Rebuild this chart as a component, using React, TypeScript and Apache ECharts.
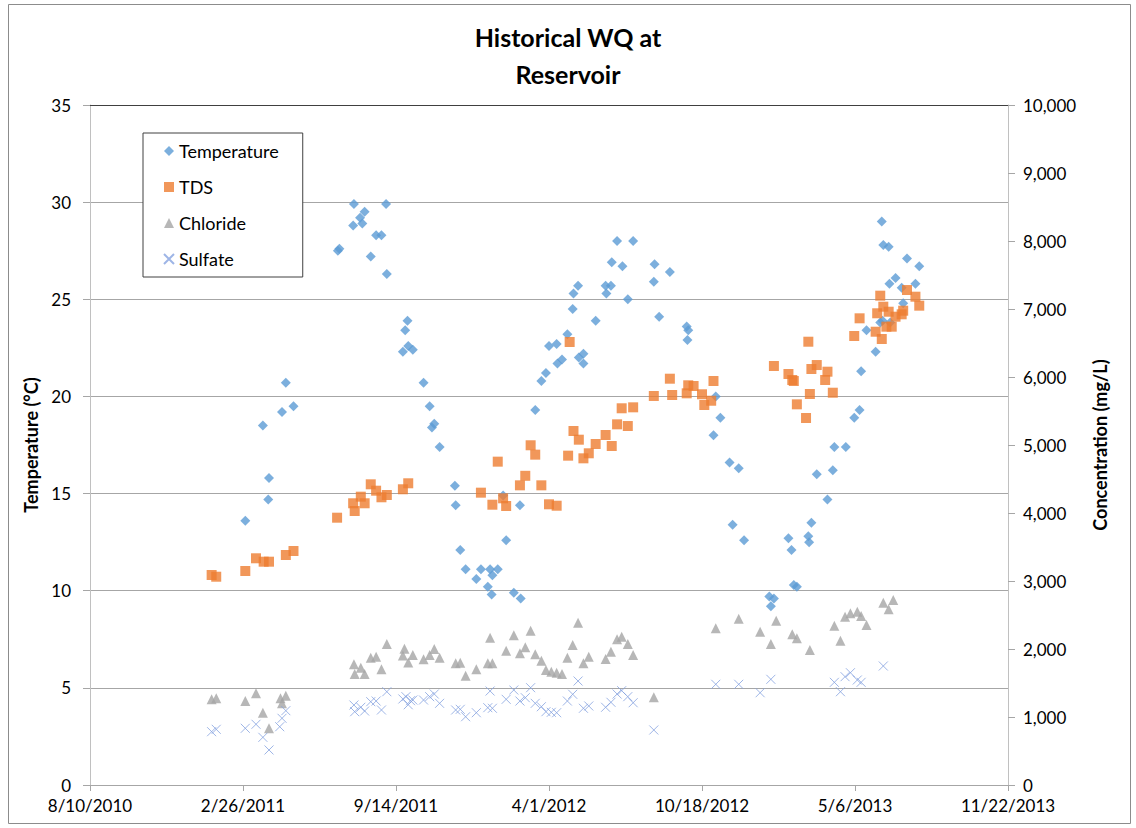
import React, { useEffect, useRef } from "react";
import * as echarts from "echarts";

const FONT = 'Lato, "Open Sans", "Noto Sans", sans-serif';

const titleLines = ["Historical WQ at", "Reservoir"];
const xTickMin = "2010-08-10";
const xTickMax = "2013-11-22";
const xTickStepDays = 200;

const tempDates = [
  "2011-03-01", "2011-03-24", "2011-03-31", "2011-04-01", "2011-04-18", "2011-04-23", "2011-05-03",
  "2011-06-30", "2011-07-02", "2011-07-20", "2011-07-21", "2011-07-29", "2011-08-01", "2011-08-04",
  "2011-08-12", "2011-08-19", "2011-08-26", "2011-09-01", "2011-09-02", "2011-09-23", "2011-09-26",
  "2011-09-29", "2011-09-30", "2011-10-06", "2011-10-20", "2011-10-28", "2011-10-31", "2011-11-03",
  "2011-11-10", "2011-11-30", "2011-12-01", "2011-12-07", "2011-12-14", "2011-12-28", "2012-01-03",
  "2012-01-12", "2012-01-15", "2012-01-17", "2012-01-18", "2012-01-25", "2012-02-01", "2012-02-05",
  "2012-02-15", "2012-02-23", "2012-02-24", "2012-03-14", "2012-03-22", "2012-03-28", "2012-04-01",
  "2012-04-11", "2012-04-12", "2012-04-18", "2012-04-25", "2012-05-02", "2012-05-03", "2012-05-09",
  "2012-05-10", "2012-05-16", "2012-05-16", "2012-06-01", "2012-06-14", "2012-06-15", "2012-06-21",
  "2012-06-22", "2012-06-29", "2012-07-06", "2012-07-13", "2012-07-20", "2012-08-16", "2012-08-17",
  "2012-08-23", "2012-09-06", "2012-09-28", "2012-09-29", "2012-09-30", "2012-11-02", "2012-11-05",
  "2012-11-11", "2012-11-23", "2012-11-27", "2012-12-05", "2012-12-12", "2013-01-14", "2013-01-16",
  "2013-01-20", "2013-02-08", "2013-02-12", "2013-02-15", "2013-02-19", "2013-03-06", "2013-03-07",
  "2013-03-10", "2013-03-17", "2013-03-31", "2013-04-07", "2013-04-09", "2013-04-24", "2013-05-05",
  "2013-05-12", "2013-05-14", "2013-05-21", "2013-06-02", "2013-06-08", "2013-06-10", "2013-06-11",
  "2013-06-12", "2013-06-19", "2013-06-20", "2013-06-21", "2013-06-28", "2013-07-06", "2013-07-08",
  "2013-07-13", "2013-07-24", "2013-07-29",
];
const tempValues = [
  13.6, 18.5, 14.7, 15.8, 19.2, 20.7, 19.5,
  27.5, 27.6, 28.8, 29.9, 29.2, 28.9, 29.5,
  27.2, 28.3, 28.3, 29.9, 26.3, 22.3, 23.4,
  23.9, 22.6, 22.4, 20.7, 19.5, 18.4, 18.6,
  17.4, 15.4, 14.4, 12.1, 11.1, 10.6, 11.1,
  10.2, 11.1, 9.8, 10.8, 11.1, 14.9, 12.6,
  9.9, 14.4, 9.6, 19.3, 20.8, 21.2, 22.6,
  22.7, 21.7, 21.9, 23.2, 24.5, 25.3, 25.7,
  22.0, 22.2, 21.7, 23.9, 25.7, 25.3, 25.7,
  26.9, 28.0, 26.7, 25.0, 28.0, 25.9, 26.8,
  24.1, 26.4, 23.6, 22.9, 23.4, 18.0, 20.0,
  18.9, 16.6, 13.4, 16.3, 12.6, 9.7, 9.2,
  9.6, 12.7, 12.1, 10.3, 10.2, 12.8, 12.5,
  13.5, 16.0, 14.7, 16.2, 17.4, 17.4, 18.9,
  19.3, 21.3, 23.4, 22.3, 23.8, 29.0, 23.9,
  27.8, 27.7, 25.8, 23.8, 26.1, 25.6, 24.8,
  27.1, 25.8, 26.7,
];

const tdsDates = [
  "2011-01-16", "2011-01-22", "2011-03-01", "2011-03-15", "2011-03-25", "2011-04-01", "2011-04-23",
  "2011-05-03", "2011-06-29", "2011-07-20", "2011-07-22", "2011-07-30", "2011-08-04", "2011-08-12",
  "2011-08-19", "2011-08-26", "2011-09-02", "2011-09-23", "2011-09-30", "2012-01-03", "2012-01-18",
  "2012-01-25", "2012-02-01", "2012-02-05", "2012-02-23", "2012-03-01", "2012-03-08", "2012-03-14",
  "2012-03-22", "2012-04-01", "2012-04-11", "2012-04-26", "2012-04-28", "2012-05-03", "2012-05-10",
  "2012-05-16", "2012-05-23", "2012-06-01", "2012-06-14", "2012-06-22", "2012-06-29", "2012-07-05",
  "2012-07-13", "2012-07-20", "2012-08-16", "2012-09-06", "2012-09-09", "2012-09-28", "2012-09-30",
  "2012-10-07", "2012-10-18", "2012-10-21", "2012-10-30", "2012-11-02", "2013-01-20", "2013-02-08",
  "2013-02-13", "2013-02-15", "2013-02-19", "2013-03-03", "2013-03-06", "2013-03-08", "2013-03-10",
  "2013-03-17", "2013-03-28", "2013-03-31", "2013-04-07", "2013-05-05", "2013-05-12", "2013-06-02",
  "2013-06-04", "2013-06-08", "2013-06-10", "2013-06-12", "2013-06-16", "2013-06-19", "2013-06-23",
  "2013-06-28", "2013-07-06", "2013-07-08", "2013-07-13", "2013-07-24", "2013-07-29",
];
const tdsValues = [
  3088, 3063, 3147, 3334, 3284, 3284, 3382,
  3441, 3931, 4143, 4029, 4240, 4143, 4422,
  4328, 4231, 4265, 4349, 4437, 4299, 4122,
  4755, 4216, 4103, 4407, 4547, 4996, 4858,
  4407, 4128, 4107, 4843, 6515, 5206, 5078,
  4804, 4878, 5015, 5147, 4985, 5304, 5540,
  5279, 5554, 5721, 5975, 5735, 5760, 5878,
  5868, 5746, 5588, 5651, 5941, 6162, 6044,
  5956, 5941, 5598, 5397, 6519, 5750, 6118,
  6176, 5956, 6078, 5769, 6603, 6863, 6666,
  6937, 7196, 6559, 7034, 6740, 6960, 6740,
  6887, 6922, 6975, 7279, 7181, 7049,
];

const chlorideDates = [
  "2011-01-16", "2011-01-22", "2011-03-01", "2011-03-15", "2011-03-24", "2011-04-01", "2011-04-16",
  "2011-04-18", "2011-04-23", "2011-07-21", "2011-07-22", "2011-07-30", "2011-08-04", "2011-08-12",
  "2011-08-19", "2011-08-26", "2011-09-02", "2011-09-23", "2011-09-25", "2011-09-30", "2011-10-06",
  "2011-10-20", "2011-10-28", "2011-11-03", "2011-11-10", "2011-12-01", "2011-12-07", "2011-12-14",
  "2011-12-28", "2012-01-12", "2012-01-15", "2012-01-18", "2012-02-05", "2012-02-15", "2012-02-23",
  "2012-03-01", "2012-03-08", "2012-03-14", "2012-03-22", "2012-03-28", "2012-04-04", "2012-04-11",
  "2012-04-18", "2012-04-25", "2012-05-02", "2012-05-09", "2012-05-16", "2012-05-23", "2012-06-14",
  "2012-06-21", "2012-06-29", "2012-07-05", "2012-07-13", "2012-07-20", "2012-08-16", "2012-11-05",
  "2012-12-05", "2013-01-02", "2013-01-16", "2013-01-23", "2013-02-13", "2013-02-19", "2013-03-08",
  "2013-04-09", "2013-04-17", "2013-04-23", "2013-04-30", "2013-05-09", "2013-05-14", "2013-05-21",
  "2013-06-12", "2013-06-19", "2013-06-25",
];
const chlorideValues = [
  1260, 1275, 1235, 1349, 1063, 834, 1275,
  1201, 1313, 1775, 1632, 1725, 1632, 1872,
  1887, 1701, 2074, 1905, 2005, 1800, 1912,
  1849, 1912, 2000, 1872, 1790, 1799, 1607,
  1701, 1790, 2166, 1790, 1975, 2201, 1937,
  2025, 2269, 1922, 1828, 1691, 1666, 1651,
  1632, 1872, 2059, 2387, 1790, 1887, 1853,
  1960, 2142, 2181, 2074, 1912, 1290, 2304,
  2446, 2255, 2074, 2416, 2216, 2157, 1985,
  2343, 2122, 2475, 2525, 2549, 2485, 2353,
  2681, 2584, 2721,
];

const sulfateDates = [
  "2011-01-16", "2011-01-22", "2011-03-01", "2011-03-15", "2011-03-24", "2011-04-01", "2011-04-15",
  "2011-04-18", "2011-04-23", "2011-07-21", "2011-07-22", "2011-07-30", "2011-08-04", "2011-08-12",
  "2011-08-19", "2011-08-26", "2011-09-02", "2011-09-23", "2011-09-27", "2011-09-30", "2011-10-03",
  "2011-10-06", "2011-10-20", "2011-10-28", "2011-11-03", "2011-11-10", "2011-12-01", "2011-12-07",
  "2011-12-14", "2011-12-28", "2012-01-12", "2012-01-15", "2012-01-18", "2012-02-05", "2012-02-15",
  "2012-02-23", "2012-03-01", "2012-03-08", "2012-03-14", "2012-03-22", "2012-03-28", "2012-04-04",
  "2012-04-11", "2012-04-25", "2012-05-02", "2012-05-09", "2012-05-16", "2012-05-23", "2012-06-14",
  "2012-06-21", "2012-06-29", "2012-07-05", "2012-07-13", "2012-07-20", "2012-08-16", "2012-11-05",
  "2012-12-05", "2013-01-02", "2013-01-16", "2013-04-09", "2013-04-17", "2013-04-23", "2013-04-30",
  "2013-05-09", "2013-05-14", "2013-06-12",
];
const sulfateValues = [
  784, 819, 834, 893, 701, 515, 857,
  981, 1093, 1176, 1078, 1143, 1088, 1225,
  1235, 1103, 1372, 1265, 1299, 1180, 1240,
  1250, 1250, 1299, 1338, 1201, 1103, 1113,
  1004, 1063, 1137, 1382, 1128, 1260, 1397,
  1235, 1284, 1431, 1201, 1151, 1078, 1069,
  1063, 1235, 1334, 1529, 1128, 1162, 1143,
  1216, 1338, 1387, 1299, 1210, 809, 1481,
  1481, 1357, 1554, 1510, 1372, 1593, 1651,
  1544, 1510, 1750,
];

const EXCEL_EPOCH = Date.UTC(1899, 11, 30);
const DAY = 86400000;
const toSerial = (s: string) => {
  const [y, m, d] = s.split("-").map(Number);
  return Math.round((Date.UTC(y, m - 1, d) - EXCEL_EPOCH) / DAY);
};
const serialLabel = (v: number) => {
  const dt = new Date(EXCEL_EPOCH + v * DAY);
  return `${dt.getUTCMonth() + 1}/${dt.getUTCDate()}/${dt.getUTCFullYear()}`;
};
const pairs = (dates: string[], vals: number[]) => dates.map((d, i) => [toSerial(d), vals[i]]);

export default function App() {
  const ref = useRef<HTMLDivElement>(null);
  useEffect(() => {
    if (!ref.current) return;
    const chart = echarts.init(ref.current, null, { renderer: "svg" });
    const gray = "#a6a6a6";
    const option: any = {
      animation: false,
      backgroundColor: "#ffffff",
      textStyle: { fontFamily: FONT },
      title: {
        text: titleLines.join("\n"),
        left: "center",
        top: 13,
        textStyle: { fontFamily: FONT, fontSize: 25, fontWeight: "bold", lineHeight: 37, color: "#000" },
      },
      graphic: [
        {
          type: "rect",
          silent: true,
          z: -10,
          shape: { x: 8.5, y: 4.5, width: 1122, height: 819 },
          style: { fill: "none", stroke: "#8c8c8c", lineWidth: 1 },
        },
      ],
      legend: {
        orient: "vertical",
        left: 143,
        top: 133,
        padding: [9, 24, 9, 20],
        itemGap: 18,
        itemWidth: 10,
        itemHeight: 10,
        backgroundColor: "#fff",
        borderColor: "#404040",
        borderWidth: 1,
        textStyle: { fontFamily: FONT, fontSize: 18, color: "#000", lineHeight: 18 },
        data: ["Temperature", "TDS", "Chloride", "Sulfate"],
      },
      grid: { left: 90, right: 128, top: 105, bottom: 43 },
      xAxis: [
        {
          type: "value",
          min: toSerial(xTickMin),
          max: toSerial(xTickMax),
          interval: xTickStepDays,
          position: "bottom",
          axisLine: { onZero: false, lineStyle: { color: gray } },
          axisTick: { show: true, length: 6, lineStyle: { color: gray } },
          axisLabel: { formatter: serialLabel, fontFamily: FONT, fontSize: 17, color: "#000", margin: 12 },
          splitLine: { show: false },
        },
        {
          type: "value",
          min: toSerial(xTickMin),
          max: toSerial(xTickMax),
          position: "top",
          axisLine: { onZero: false, lineStyle: { color: "#404040" } },
          axisTick: { show: false },
          axisLabel: { show: false },
          splitLine: { show: false },
        },
      ],
      yAxis: [
        {
          type: "value",
          min: 0,
          max: 35,
          interval: 5,
          position: "left",
          name: "Temperature (°C)",
          nameLocation: "middle",
          nameRotate: 90,
          nameGap: 46,
          nameTextStyle: { fontFamily: FONT, fontSize: 18, fontWeight: "bold", color: "#000" },
          axisLine: { show: true, onZero: false, lineStyle: { color: "#c0c0c0" } },
          axisTick: { show: true, length: 7, lineStyle: { color: gray } },
          axisLabel: { fontFamily: FONT, fontSize: 17, color: "#000", margin: 19 },
          splitLine: { show: true, lineStyle: { color: gray } },
        },
        {
          type: "value",
          min: 0,
          max: 10000,
          interval: 1000,
          position: "right",
          name: "Concentration (mg/L)",
          nameLocation: "middle",
          nameRotate: 90,
          nameGap: 83,
          nameTextStyle: { fontFamily: FONT, fontSize: 18, fontWeight: "bold", color: "#000" },
          axisLine: { show: true, onZero: false, lineStyle: { color: "#c0c0c0" } },
          axisTick: { show: true, length: 7, lineStyle: { color: gray } },
          axisLabel: {
            fontFamily: FONT,
            fontSize: 17,
            color: "#000",
            margin: 15,
            formatter: (v: number) => v.toLocaleString("en-US"),
          },
          splitLine: { show: false },
        },
      ],
      series: [
        {
          name: "Temperature",
          type: "scatter",
          yAxisIndex: 0,
          symbol: "diamond",
          symbolSize: 10,
          itemStyle: { color: "#5B9BD5" },
          data: pairs(tempDates, tempValues),
        },
        {
          name: "TDS",
          type: "scatter",
          yAxisIndex: 1,
          symbol: "rect",
          symbolSize: 10,
          itemStyle: { color: "#ED7D31" },
          data: pairs(tdsDates, tdsValues),
        },
        {
          name: "Chloride",
          type: "scatter",
          yAxisIndex: 1,
          symbol: "triangle",
          symbolSize: 10,
          itemStyle: { color: "#A5A5A5" },
          data: pairs(chlorideDates, chlorideValues),
        },
        {
          name: "Sulfate",
          type: "scatter",
          yAxisIndex: 1,
          symbol: "path://M0,0L10,10M10,0L0,10",
          symbolSize: 9,
          itemStyle: { color: "rgba(0,0,0,0)", borderColor: "#86A3E0", borderWidth: 1 },
          data: pairs(sulfateDates, sulfateValues),
        },
      ],
    };
    chart.setOption(option);
    return () => chart.dispose();
  }, []);
  return (
    <div
      ref={ref}
      style={{ position: "fixed", left: 0, top: 0, width: 1136, height: 828, background: "#fff" }}
    />
  );
}
